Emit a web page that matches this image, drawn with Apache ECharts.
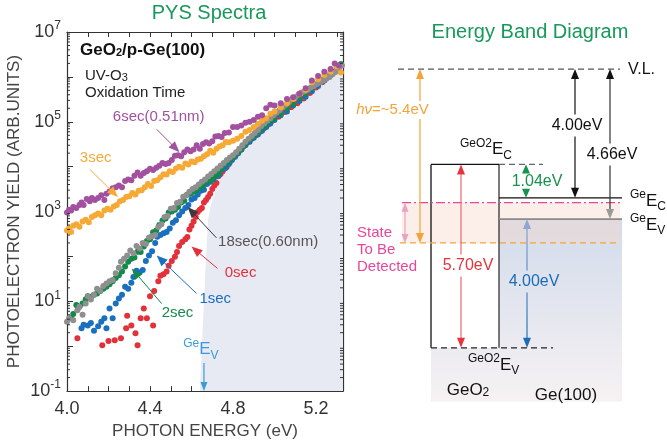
<!DOCTYPE html>
<html>
<head>
<meta charset="utf-8">
<script src="https://cdn.jsdelivr.net/npm/echarts/dist/echarts.min.js"></script>
<style>
  html, body { margin: 0; padding: 0; background: #fff; }
  #chart { width: 667px; height: 445px; }
</style>
</head>
<body>
<div id="chart"></div>
<script>
const FONT = '"Liberation Sans", Arial, Helvetica, sans-serif';

// ---- PYS spectra: [photon energy (eV), photoelectron yield (arb. units)] ----
const yield6sec = [
  [4.00,950],[4.01,1100],[4.02,1050],[4.03,1260],[4.045,1200],[4.06,1400],[4.07,1600],[4.08,1400],
  [4.095,1900],[4.11,1700],[4.12,2000],[4.135,1800],[4.15,2000],[4.165,2300],[4.18,1800],[4.19,2500],
  [4.205,2800],[4.22,3300],[4.235,3500],[4.25,3800],[4.265,3500],[4.28,4800],[4.295,5200],[4.31,5000],
  [4.325,6300],[4.34,7400],[4.355,6300],[4.37,7200],[4.385,7900],[4.40,9000],[4.415,8400],[4.43,9500],
  [4.445,10500],[4.46,12000],[4.475,11500],[4.49,12000],[4.505,14000],[4.52,17500],[4.535,18000],
  [4.55,17000],[4.565,21000],[4.58,24000],[4.595,22000],[4.61,24000],[4.625,30000],[4.64,25000],
  [4.655,32000],[4.67,35000],[4.685,33000],[4.70,37000],[4.715,47000],[4.73,48000],[4.745,46000],
  [4.76,56000],[4.78,58000],[4.80,76000],[4.82,76000],[4.84,83000],[4.86,95000],[4.88,1.0e5],
  [4.90,1.1e5],[4.92,1.3e5],[4.94,1.4e5],[4.96,2.0e5],[4.98,2.4e5],[5.00,2.3e5],[5.03,2.6e5],
  [5.06,3.2e5],[5.09,3.5e5],[5.12,4.2e5],[5.15,5.6e5],[5.18,8.3e5],[5.21,1.05e6],[5.24,1.3e6],
  [5.27,1.5e6],[5.29,2.0e6],[5.31,1.8e6]
];
const yield3sec = [
  [4.00,380],[4.01,420],[4.02,350],[4.03,480],[4.045,520],[4.06,460],[4.075,600],[4.09,660],
  [4.105,580],[4.12,760],[4.135,830],[4.15,910],[4.165,830],[4.18,1050],[4.195,1150],[4.21,1100],
  [4.225,1300],[4.24,1400],[4.255,1700],[4.27,1800],[4.285,2100],[4.30,2200],[4.315,2600],[4.33,2400],
  [4.345,2900],[4.36,3000],[4.375,3500],[4.39,4100],[4.405,3700],[4.42,4800],[4.435,5000],[4.45,5800],
  [4.465,6800],[4.48,6700],[4.495,7900],[4.51,7600],[4.525,9100],[4.54,10000],[4.555,9500],[4.57,11800],
  [4.585,11200],[4.60,13000],[4.615,12600],[4.63,14500],[4.645,15000],[4.66,17000],[4.675,19000],
  [4.69,22500],[4.705,20500],[4.72,25000],[4.735,28000],[4.75,30000],[4.765,35500],[4.78,35000],
  [4.80,38000],[4.82,42000],[4.84,48000],[4.86,60000],[4.88,66000],[4.90,76000],[4.92,89000],
  [4.94,1.05e5],[4.96,1.2e5],[4.98,1.5e5],[5.00,1.7e5],[5.03,2.1e5],[5.06,2.6e5],[5.09,3.2e5],
  [5.12,4.2e5],[5.15,5.2e5],[5.18,7.6e5],[5.21,8.9e5],[5.24,1.1e6],[5.27,1.3e6],[5.30,1.7e6],[5.32,1.26e6]
];
const yield18sec = [
  [4.00,3.5],[4.01,4.2],[4.03,3.8],[4.05,6.3],[4.06,7.6],[4.075,5.0],[4.09,8.9],[4.10,13],[4.115,11],
  [4.13,14],[4.145,19],[4.16,17],[4.175,22],[4.19,25],[4.205,28],[4.22,30],[4.235,42],[4.25,56],
  [4.26,76],[4.275,89],[4.29,105],[4.305,135],[4.32,118],[4.335,170],[4.35,150],[4.365,200],[4.38,190],
  [4.395,265],[4.41,280],[4.425,300],[4.44,450],[4.455,520],[4.47,760],[4.485,800],[4.50,1150],
  [4.515,1200],[4.53,1550],[4.545,1650],[4.56,2150],[4.575,2300],[4.59,2750],[4.605,3200],[4.62,3500],
  [4.635,4000],[4.65,4600],[4.665,5200],[4.68,6000],[4.695,6900],[4.71,7900],[4.725,9100],[4.74,10500],
  [4.755,12000],[4.77,14000],[4.785,16000],[4.80,18000],[4.815,21000],[4.83,25000],[4.845,30000],
  [4.86,36000],[4.875,42000],[4.89,48000],[4.905,56000],[4.92,66000],[4.935,79000],[4.95,91000],
  [4.965,1.05e5],[4.98,1.2e5],[4.995,1.4e5],[5.01,1.6e5],[5.025,1.8e5],[5.04,2.1e5],[5.055,2.4e5],
  [5.07,2.75e5],[5.085,3.2e5],[5.10,3.5e5],[5.115,4.0e5],[5.13,4.5e5],[5.145,4.8e5],[5.16,5.2e5],
  [5.175,5.8e5],[5.19,6.3e5],[5.205,6.9e5],[5.22,7.6e5],[5.235,8.3e5],[5.25,9.1e5],[5.265,1.0e6],
  [5.28,1.15e6],[5.295,1.3e6],[5.31,1.5e6],[5.325,1.8e6]
];
const yield2sec = [
  [4.02,4.2],[4.03,5.2],[4.045,8.3],[4.06,7.6],[4.075,8.9],[4.09,11],[4.10,13],[4.115,12.6],[4.13,14],
  [4.145,15],[4.16,17],[4.175,19],[4.19,21],[4.205,24],[4.22,28],[4.235,33],[4.25,38],[4.265,46],
  [4.28,60],[4.295,76],[4.31,89],[4.325,95],[4.34,128],[4.355,126],[4.37,166],[4.385,220],[4.40,240],
  [4.415,345],[4.43,380],[4.445,500],[4.46,630],[4.475,700],[4.49,950],[4.505,1000],[4.52,1100],
  [4.535,1260],[4.55,1600],[4.565,1750],[4.58,2400],[4.595,2500],[4.61,2750],[4.625,3000],[4.64,3500],
  [4.655,3700],[4.67,4800],[4.685,4800],[4.70,5200],[4.715,6300],[4.73,7000],[4.745,9100],[4.76,11000],
  [4.78,13000],[4.80,16000],[4.82,20000],[4.84,24000],[4.86,32000],[4.88,40000],[4.90,48000],
  [4.92,58000],[4.94,72000],[4.96,87000],[4.98,1.05e5],[5.00,1.2e5],[5.03,1.5e5],[5.06,2.0e5],
  [5.09,2.5e5],[5.12,3.3e5],[5.15,4.2e5],[5.18,5.5e5],[5.21,7.1e5],[5.24,9.5e5],[5.27,1.2e6],
  [5.30,1.6e6],[5.32,1.9e6]
];
const yield1sec = [
  [4.07,2.5],[4.08,3.0],[4.10,2.9],[4.115,3.3],[4.13,2.2],[4.15,2.8],[4.165,3.5],[4.18,4.2],[4.19,2.5],
  [4.205,6.9],[4.22,4.2],[4.235,8.9],[4.25,11.5],[4.265,14],[4.28,21],[4.295,19],[4.31,26],[4.32,35],
  [4.335,48],[4.35,44],[4.365,50],[4.38,79],[4.395,105],[4.41,130],[4.425,200],[4.435,275],[4.45,300],
  [4.465,330],[4.48,350],[4.495,420],[4.51,560],[4.525,640],[4.54,830],[4.555,1000],[4.57,1200],
  [4.585,1400],[4.60,1850],[4.615,2000],[4.63,2400],[4.645,2900],[4.66,3050],[4.675,4100],[4.69,4600],
  [4.705,5200],[4.72,6000],[4.735,6700],[4.75,8900],[4.765,9500],[4.78,11500],[4.795,14000],
  [4.81,16600],[4.825,20000],[4.84,24000],[4.86,30000],[4.88,36000],[4.90,44000],[4.92,52000],
  [4.94,63000],[4.96,76000],[4.98,91000],[5.00,1.1e5],[5.03,1.4e5],[5.06,1.7e5],[5.09,2.3e5],
  [5.12,2.9e5],[5.15,3.6e5],[5.18,4.8e5],[5.21,6.3e5],[5.24,8.3e5],[5.27,1.1e6],[5.30,1.45e6],[5.32,1.9e6]
];
const yield0sec = [
  [4.05,1.5],[4.17,1.05],[4.20,1.3],[4.23,1.35],[4.26,1.5],[4.285,2.5],[4.29,4.8],[4.31,2.9],[4.33,1.95],
  [4.34,1.05],[4.355,4.2],[4.37,6.9],[4.385,4.2],[4.40,13],[4.415,2.9],[4.42,17],[4.44,28],[4.45,37],
  [4.465,40],[4.48,46],[4.49,62],[4.505,79],[4.52,98],[4.53,126],[4.54,170],[4.555,210],[4.57,240],
  [4.58,270],[4.59,400],[4.60,480],[4.61,600],[4.62,760],[4.63,980],[4.64,1100],[4.65,1200],[4.66,1600],
  [4.67,1800],[4.68,2100],[4.69,2500],[4.70,3200],[4.71,3800],[4.72,4300],[4.73,6100],[4.74,6900],
  [4.75,7900],[4.76,9100],[4.77,10000],[4.785,12600],[4.80,16000],[4.815,19000],[4.83,23000],
  [4.85,28000],[4.87,35000],[4.89,42000],[4.91,50000],[4.93,60000],[4.95,72000],[4.97,87000],
  [4.99,1.05e5],[5.02,1.3e5],[5.05,1.66e5],[5.08,2.1e5],[5.11,2.6e5],[5.14,3.3e5],[5.17,4.4e5],
  [5.20,5.8e5],[5.23,7.6e5],[5.26,1.0e6],[5.29,1.3e6],[5.31,1.66e6]
];
// edge of the shaded Ge bulk-emission region
const bulkEdge = [
  [4.64,0.1],[4.65,1],[4.66,10],[4.67,100],[4.68,700],[4.695,1500],[4.72,3500],[4.75,7500],
  [4.79,14000],[4.84,24000],[4.90,40000],[4.97,70000],[5.05,1.3e5],[5.13,2.6e5],[5.21,5.5e5],
  [5.28,1.0e6],[5.33,1.4e6]
];
const energyTicks = [4.0, 4.4, 4.8, 5.2];
const labelledExponents = [-1, 1, 3, 5, 7];
const geValenceEdge = 4.66;

// ---- band diagram energies (eV, relative to the vacuum level) ----
const vacuumLevel = 0;
const geAffinity = 4.00;          // V.L. -> Ge Ec
const geIonization = 4.66;        // V.L. -> Ge Ev
const conductionOffset = 1.04;    // GeO2 Ec -> Ge Ec
const geo2Gap = 5.70;             // GeO2 band gap
const valenceOffset = 4.00;       // Ge Ev -> GeO2 Ev
const photonEnergy = 5.4;         // hv
const stateDepth = 4.15;          // top of the probed state window

const geEc = vacuumLevel - geAffinity;
const geEv = vacuumLevel - geIonization;
const geo2Ec = geEc + conductionOffset;
const geo2Ev = geo2Ec - geo2Gap;

const C = {
  red: '#e2313b', blue: '#1a6fbf', green: '#13894a', gray: '#8f8f8f',
  orange: '#f6a935', purple: '#a2519f', title: '#17995a', pink: '#e6479b'
};

const spectra = [
  { name: '0sec', data: yield0sec, color: C.red },
  { name: '1sec', data: yield1sec, color: C.blue },
  { name: '2sec', data: yield2sec, color: C.green },
  { name: '18sec(0.60nm)', data: yield18sec, color: C.gray },
  { name: '3sec', data: yield3sec, color: C.orange },
  { name: '6sec(0.51nm)', data: yield6sec, color: C.purple }
];

// call-out labels with arrows, placed in data coordinates
const callouts = [
  { text: '6sec(0.51nm)', color: C.purple, at: [4.221, 1.3e5], from: [4.432, 6.8e4], to: [4.542, 2.1e4] },
  { text: '3sec', color: C.orange, at: [4.062, 1.6e4], from: [4.11, 8.7e3], to: [4.245, 2.1e3] },
  { text: '18sec(0.60nm)', color: '#555', arrow: '#3a3a3a', at: [4.728, 2.1e2], from: [4.72, 2.6e2], to: [4.581, 1.26e3] },
  { text: '0sec', color: C.red, at: [4.76, 42], from: [4.725, 54], to: [4.60, 1.66e2] },
  { text: '1sec', color: C.blue, at: [4.638, 11.5], from: [4.624, 15], to: [4.432, 1.05e2] },
  { text: '2sec', color: C.green, at: [4.456, 5.4], from: [4.456, 8.9], to: [4.312, 54] }
];

// ---- drawing helpers ----
function textEl(text, x, y, o) {
  const st = Object.assign({
    text: text, x: x, y: y, fill: '#222', fontSize: 15, fontFamily: FONT,
    align: 'left', verticalAlign: 'middle'
  }, o || {});
  st.textAlign = st.align;
  st.textVerticalAlign = st.verticalAlign;
  return { type: 'text', style: st };
}

function arrowEls(x1, y1, x2, y2, o) {
  const L = o.headLen || 10, W = o.headW || 8;
  const dx = x2 - x1, dy = y2 - y1, len = Math.hypot(dx, dy);
  const ux = dx / len, uy = dy / len, nx = -uy, ny = ux;
  const sx = x1 + (o.head1 ? ux * L * 0.8 : 0), sy = y1 + (o.head1 ? uy * L * 0.8 : 0);
  const ex = x2 - (o.head2 ? ux * L * 0.8 : 0), ey = y2 - (o.head2 ? uy * L * 0.8 : 0);
  const stroke = o.stroke || o.color;
  const els = [];
  let segs = [[sx, sy, ex, ey]];
  if (o.gap) {
    const g0 = Math.min(o.gap[0], o.gap[1]), g1 = Math.max(o.gap[0], o.gap[1]);
    const top = Math.min(sy, ey), bot = Math.max(sy, ey);
    segs = [[sx, top, ex, g0], [sx, g1, ex, bot]];
  }
  segs.forEach(s => {
    els.push({ type: 'line', shape: { x1: s[0], y1: s[1], x2: s[2], y2: s[3] },
      style: { stroke: stroke, lineWidth: o.width || 1.2 } });
  });
  const head = (tx, ty, vx, vy, col) => ({
    type: 'polygon',
    shape: { points: [[tx, ty],
      [tx - vx * L + nx * W / 2, ty - vy * L + ny * W / 2],
      [tx - vx * L - nx * W / 2, ty - vy * L - ny * W / 2]] },
    style: { fill: col }
  });
  if (o.head2) els.push(head(x2, y2, ux, uy, o.head2Color || o.color));
  if (o.head1) els.push(head(x1, y1, -ux, -uy, o.head1Color || o.color));
  return els;
}

const supRich = {
  s: { fontSize: 12, fontFamily: FONT, verticalAlign: 'top', lineHeight: 12 },
  b: { fontSize: 17, fontFamily: FONT, lineHeight: 24 },
  u: { fontSize: 12, fontFamily: FONT, verticalAlign: 'bottom', lineHeight: 12 }
};
function richColor(col, extra) {
  const r = {};
  Object.keys(supRich).forEach(k => { r[k] = Object.assign({}, supRich[k], { fill: col, color: col }, extra || {}); });
  return r;
}

// ---- custom renderers ----
function renderMinorTicks(params, api) {
  const els = [];
  for (let n = -1; n < 7; n++) {
    for (let k = 2; k < 10; k++) {
      const v = k * Math.pow(10, n);
      const pl = api.coord([4.0, v]), pr = api.coord([5.33, v]);
      els.push({ type: 'line', shape: { x1: pl[0], y1: pl[1], x2: pl[0] + 3, y2: pl[1] }, style: { stroke: '#333', lineWidth: 1 } });
      els.push({ type: 'line', shape: { x1: pr[0] - 3, y1: pr[1], x2: pr[0], y2: pr[1] }, style: { stroke: '#333', lineWidth: 1 } });
    }
  }
  return { type: 'group', children: els };
}

function renderCallout(params, api) {
  const c = callouts[params.dataIndex];
  const a = api.coord(c.from), b = api.coord(c.to), t = api.coord(c.at);
  const els = arrowEls(a[0], a[1], b[0], b[1], { color: c.arrow || c.color, width: 1, head2: true, headLen: 11, headW: 9 });
  els.push(textEl(c.text, t[0], t[1], { fill: c.color, fontSize: 15 }));
  return { type: 'group', children: els };
}

function renderEdgeMarker(params, api) {
  const col = '#3d9ad8';
  const a = api.coord([geValenceEdge, 0.42]), b = api.coord([geValenceEdge, 0.1]);
  const t = api.coord([4.645, 0.85]);
  const els = arrowEls(a[0], a[1], b[0], b[1], { color: col, width: 1.2, head2: true, headLen: 9, headW: 7 });
  els.push(textEl('{s|Ge}{b|E}{u|V}', t[0], t[1], { align: 'center', rich: richColor(col, {}) }));
  return { type: 'group', children: els };
}

function renderBandDiagram(params, api) {
  const X = x => api.coord([x, 0])[0];
  const Y = e => api.coord([0, e])[1];
  const yVL = Y(vacuumLevel), yC2 = Y(geo2Ec), yEc = Y(geEc), yEv = Y(geEv);
  const yHv = Y(vacuumLevel - photonEnergy), ySt = Y(vacuumLevel - stateDepth), yV2 = Y(geo2Ev);
  const els = [];
  const bottom = yV2 + 54;

  // Ge substrate shading and GeO2 box
  els.push({ type: 'rect', shape: { x: X(91), y: yEv, width: X(282) - X(91), height: bottom - yEv },
    style: { fill: new echarts.graphic.LinearGradient(0, 0, 0, 1, [
      { offset: 0, color: '#d2dbeb' }, { offset: 1, color: '#f6f2f3' }]) } });
  els.push({ type: 'rect', shape: { x: X(91), y: yC2, width: X(159) - X(91), height: yV2 - yC2 },
    style: { fill: '#fff', stroke: 'none' } });
  // window of states reachable with hv
  els.push({ type: 'rect', shape: { x: X(62), y: ySt, width: X(280) - X(62), height: yHv - ySt },
    style: { fill: 'rgba(248,215,200,0.42)' } });
  els.push({ type: 'line', shape: { x1: X(91), y1: yC2, x2: X(91), y2: yV2 }, style: { stroke: '#111', lineWidth: 1.3 } });
  els.push({ type: 'line', shape: { x1: X(159), y1: yC2, x2: X(159), y2: yV2 }, style: { stroke: '#333', lineWidth: 1.3 } });
  els.push({ type: 'line', shape: { x1: X(91), y1: yC2, x2: X(159), y2: yC2 }, style: { stroke: '#111', lineWidth: 1.3 } });

  const hline = (x0, x1, y, stroke, dash, w) => els.push({ type: 'line',
    shape: { x1: X(x0), y1: y, x2: X(x1), y2: y },
    style: { stroke: stroke, lineWidth: w || 1.3, lineDash: dash || null } });
  hline(58, 280, yVL, '#555', [6, 4]);
  hline(159, 203, yC2, '#666', [6, 4]);
  hline(159, 282, yEc, '#111', null, 1.3);
  hline(159, 282, yEv, '#8a8a8a', null, 1.8);
  hline(60, 280, yHv, '#f2a43a', [6, 4], 1.2);
  hline(62, 280, ySt, C.pink, [9, 3, 2, 3], 1.2);
  hline(91, 213, yV2, '#222', [6, 4], 1.3);

  // energy arrows
  const lblHv = Y(-1.27), lbl400 = Y(-1.75), lbl466 = Y(-2.65);
  const lbl104 = (yC2 + yEc) / 2, lbl570 = Y(-6.1), lblVo = Y(-6.6);
  [].push.apply(els, arrowEls(X(80), yVL, X(80), yHv, { color: '#f2a43a', head1: true, head2: true, gap: [lblHv - 9, lblHv + 9] }));
  [].push.apply(els, arrowEls(X(65), ySt, X(65), yHv, { color: '#eba1c4', head1: true, head2: true, headLen: 9, headW: 7 }));
  [].push.apply(els, arrowEls(X(121), yC2, X(121), yV2, { color: '#e5343d', stroke: '#ea6a70', head1: true, head2: true, gap: [lbl570 - 11, lbl570 + 11] }));
  [].push.apply(els, arrowEls(X(186), yC2, X(186), yEc, { color: '#17924f', head1: true, head2: true, headLen: 9, gap: [lbl104 - 9, lbl104 + 9] }));
  [].push.apply(els, arrowEls(X(235), yVL, X(235), yEc, { color: '#111', head1: true, head2: true, gap: [lbl400 - 11, lbl400 + 11] }));
  [].push.apply(els, arrowEls(X(270), yVL, X(270), yEv, { color: '#111', stroke: '#333', head2Color: '#9a9a9a', head1: true, head2: true, gap: [lbl466 - 11, lbl466 + 11] }));
  [].push.apply(els, arrowEls(X(187), yEv, X(187), yV2, {
    color: '#1b6cb8', head1Color: '#8ea6d6', head2Color: '#1b6cb8', head1: true, head2: true,
    stroke: new echarts.graphic.LinearGradient(X(187), yEv, X(187), yV2, [
      { offset: 0, color: '#8ea6d6' }, { offset: 1, color: '#1b6cb8' }], true),
    gap: [lblVo - 11, lblVo + 11] }));

  // labels
  els.push(textEl('{i|hν}{n|=~5.4eV}', X(52.5), lblHv, { align: 'center', rich: {
    i: { fontSize: 15, fontStyle: 'italic', fill: '#f2a43a', color: '#f2a43a', fontFamily: FONT },
    n: { fontSize: 15, fill: '#f2a43a', color: '#f2a43a', fontFamily: FONT } } }));
  els.push(textEl('State', X(17), yHv - 10, { fill: C.pink }));
  els.push(textEl('To Be', X(17), yHv + 7, { fill: C.pink }));
  els.push(textEl('Detected', X(17), yHv + 24, { fill: C.pink }));
  els.push(textEl('V.L.', X(288), yVL, { fontSize: 16, fill: '#111' }));
  els.push(textEl('{s|GeO2}{b|E}{u|C}', X(120), yC2 - 15, { rich: richColor('#111') }));
  els.push(textEl('{s|GeO2}{b|E}{u|V}', X(128), yV2 + 17, { rich: richColor('#111') }));
  els.push(textEl('{s|Ge}{b|E}{u|C}', X(290), yEc + 3, { rich: richColor('#111') }));
  els.push(textEl('{s|Ge}{b|E}{u|V}', X(290), yEv + 6, { rich: richColor('#111') }));
  els.push(textEl('4.00eV', X(237), lbl400, { align: 'center', fontSize: 16, fill: '#111' }));
  els.push(textEl('4.66eV', X(272), lbl466, { align: 'center', fontSize: 16, fill: '#111' }));
  els.push(textEl('1.04eV', X(197), lbl104, { align: 'center', fontSize: 16, fill: '#17924f' }));
  els.push(textEl('5.70eV', X(128), lbl570, { align: 'center', fontSize: 16, fill: '#e5343d' }));
  els.push(textEl('4.00eV', X(194), lblVo, { align: 'center', fontSize: 16, fill: '#1b6cb8' }));
  els.push(textEl('GeO{u|2}', X(128), yV2 + 42, { align: 'center', fontSize: 17, fill: '#111',
    rich: { u: { fontSize: 12, verticalAlign: 'bottom', lineHeight: 12, fill: '#111', color: '#111', fontFamily: FONT } } }));
  els.push(textEl('Ge(100)', X(226), yV2 + 47, { align: 'center', fontSize: 17, fill: '#111' }));
  return { type: 'group', children: els };
}

// ---- chart ----
const chart = echarts.init(document.getElementById('chart'), null, { renderer: 'canvas' });
const axisLine = { show: true, lineStyle: { color: '#333', width: 1.2 } };
const xBase = { gridIndex: 0, type: 'value', min: 4.0, max: 5.33, interval: 0.1,
  axisLine: axisLine, axisTick: { inside: true, length: 5, lineStyle: { color: '#333' } },
  splitLine: { show: false } };
const yBase = { gridIndex: 0, type: 'log', logBase: 10, min: 0.1, max: 1e7, splitNumber: 8,
  axisLine: axisLine, axisTick: { inside: true, length: 6, lineStyle: { color: '#333' } },
  splitLine: { show: false }, minorTick: { show: false } };

const option = {
  animation: false,
  backgroundColor: '#fff',
  textStyle: { fontFamily: FONT },
  grid: [
    { left: 67, top: 32, width: 276, height: 361 },
    { left: 340, top: 53, width: 327, height: 338 }
  ],
  xAxis: [
    Object.assign({}, xBase, {
      position: 'bottom',
      axisLabel: { fontSize: 18, color: '#333', margin: 9, fontFamily: FONT,
        formatter: v => energyTicks.some(t => Math.abs(t - v) < 1e-6) ? v.toFixed(1) : '' },
      name: 'PHOTON ENERGY (eV)', nameLocation: 'middle', nameGap: 28,
      nameTextStyle: { fontSize: 17, color: '#444', fontFamily: FONT }
    }),
    Object.assign({}, xBase, { position: 'top', axisLabel: { show: false } }),
    { gridIndex: 1, type: 'value', min: 0, max: 327, show: false }
  ],
  yAxis: [
    Object.assign({}, yBase, {
      position: 'left',
      axisLabel: { margin: 6, color: '#333',
        formatter: v => {
          const e = Math.round(Math.log10(v));
          return labelledExponents.indexOf(e) >= 0 ? '{b|10}{s|' + e + '}' : '';
        },
        rich: {
          b: { fontSize: 18, color: '#333', fontFamily: FONT, lineHeight: 24 },
          s: { fontSize: 12, color: '#333', fontFamily: FONT, verticalAlign: 'top', lineHeight: 12 }
        } },
      name: 'PHOTOELECTRON YIELD (ARB.UNITS)', nameLocation: 'middle', nameGap: 44, nameRotate: 90,
      nameTextStyle: { fontSize: 17, color: '#444', fontFamily: FONT }
    }),
    Object.assign({}, yBase, { position: 'right', axisLabel: { show: false } }),
    { gridIndex: 1, type: 'value', min: -10, max: 0.5, show: false }
  ],
  graphic: [
    { type: 'text', x: 209, y: 13, silent: true, style: { text: 'PYS Spectra', fill: C.title, font: '20px ' + FONT,
      align: 'center', verticalAlign: 'middle', textAlign: 'center', textVerticalAlign: 'middle' } },
    { type: 'text', x: 530, y: 32, silent: true, style: { text: 'Energy Band Diagram', fill: C.title, font: '20px ' + FONT,
      align: 'center', verticalAlign: 'middle', textAlign: 'center', textVerticalAlign: 'middle' } },
    { type: 'text', x: 80, y: 50, silent: true, style: { text: 'GeO{u|2}/p-Ge(100)', fill: '#111',
      font: 'bold 17px ' + FONT, align: 'left', verticalAlign: 'middle', textAlign: 'left', textVerticalAlign: 'middle',
      rich: { u: { fontSize: 11, fontWeight: 'bold', fontFamily: FONT, verticalAlign: 'bottom', lineHeight: 11, fill: '#111', color: '#111' } } } },
    { type: 'text', x: 85, y: 76, silent: true, style: { text: 'UV-O{u|3}', fill: '#222',
      font: '15px ' + FONT, align: 'left', verticalAlign: 'middle', textAlign: 'left', textVerticalAlign: 'middle',
      rich: { u: { fontSize: 11, fontFamily: FONT, verticalAlign: 'bottom', lineHeight: 11, fill: '#222', color: '#222' } } } },
    { type: 'text', x: 85, y: 93, silent: true, style: { text: 'Oxidation Time', fill: '#222',
      font: '15px ' + FONT, align: 'left', verticalAlign: 'middle', textAlign: 'left', textVerticalAlign: 'middle' } }
  ],
  series: [
    { type: 'line', xAxisIndex: 0, yAxisIndex: 0, data: bulkEdge, showSymbol: false, silent: true,
      lineStyle: { width: 0, color: '#e7eaf3' }, areaStyle: { color: '#e7eaf3', opacity: 1, origin: 'start' }, z: 1 }
  ].concat(spectra.map(s => ({
    type: 'scatter', name: s.name, xAxisIndex: 0, yAxisIndex: 0, data: s.data,
    symbol: 'circle', symbolSize: 6, itemStyle: { color: s.color, opacity: 1 }, silent: true, z: 3
  }))).concat([
    { type: 'custom', xAxisIndex: 0, yAxisIndex: 0, data: [[4.5, 1]], renderItem: renderMinorTicks, silent: true, clip: false, z: 4 },
    { type: 'custom', xAxisIndex: 0, yAxisIndex: 0, data: callouts.map(c => c.to), renderItem: renderCallout, silent: true, clip: false, z: 5 },
    { type: 'custom', xAxisIndex: 0, yAxisIndex: 0, data: [[geValenceEdge, 0.2]], renderItem: renderEdgeMarker, silent: true, clip: false, z: 5 },
    { type: 'custom', xAxisIndex: 2, yAxisIndex: 2, data: [[0, 0]], renderItem: renderBandDiagram, silent: true, clip: false, z: 2 }
  ])
};
chart.setOption(option);
</script>
</body>
</html>
